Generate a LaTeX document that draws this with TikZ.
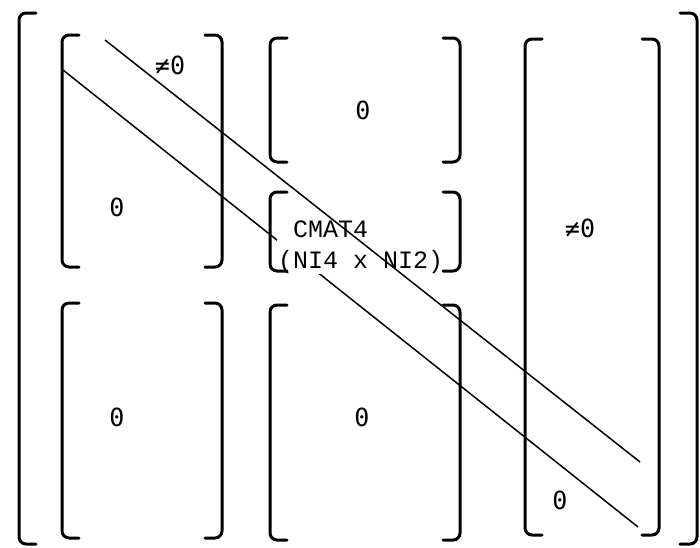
\documentclass[tikz,border=0pt]{standalone}
\usepackage{fontspec}
\newfontfamily\zerofont{DejaVu Sans Mono}
\newfontfamily\labfont{Liberation Mono}
\usetikzlibrary{fit}
\tikzset{
  blk/.style={inner sep=0pt, outer sep=0pt},
  brk/.style={line width=3pt, rounded corners=7pt, line cap=round},
  diag/.style={line width=1.5pt},
  zlab/.style={font=\zerofont\fontsize{25}{30}\selectfont, inner sep=0pt},
  clab/.style={font=\labfont\fontsize{25}{31}\selectfont, align=left, inner sep=1pt, fill=white},
}

\begin{document}
\begin{tikzpicture}[x=1pt, y=-1pt]
  \useasboundingbox (0,0) rectangle (700,547);
  % Bloecke
  \node[blk, fit={(19,13) (697,544)}] (all) {};
  \node[blk, fit={(62,35) (222,267)}] (b11) {};
  \node[blk, fit={(270,38) (460,162)}] (b12) {};
  \node[blk, fit={(270,192) (460,271)}] (cm) {};
  \node[blk, fit={(525,39) (659,535)}] (b13) {};
  \node[blk, fit={(62,303) (222,538)}] (b21) {};
  \node[blk, fit={(270,305) (460,540)}] (b22) {};
  % Diagonale (untere Linie)
  \coordinate (d1a) at (63,70);
  \coordinate (d1b) at (638,527);
  \draw[diag] (d1a) -- (d1b);
  % CMAT4
  \node[clab, anchor=west] (cmat) at (277,247) {~CMAT4\\(NI4 x NI2)};
  % Klammern
  \foreach \b in {all,b11,b12,cm,b13,b21,b22} {
    \draw[brk] ([xshift=17pt]\b.north west) -- (\b.north west) -- (\b.south west) -- ([xshift=17pt]\b.south west);
    \draw[brk] ([xshift=-17pt]\b.north east) -- (\b.north east) -- (\b.south east) -- ([xshift=-17pt]\b.south east);
  }
  % Diagonale (obere Linie)
  \coordinate (d2a) at (105,40);
  \coordinate (d2b) at (640,462);
  \draw[diag] (d2a) -- (d2b);
  % Beschriftungen
  \node[zlab] (n11) at (170,65) {≠0};
  \node[zlab] (z11) at (117,207) {0};
  \node[zlab] (z12) at (363,110) {0};
  \node[zlab] (n13) at (580,228) {≠0};
  \node[zlab] (z13) at (560,500) {0};
  \node[zlab] (z21) at (117,417) {0};
  \node[zlab] (z22) at (362,417) {0};
\end{tikzpicture}
\end{document}
